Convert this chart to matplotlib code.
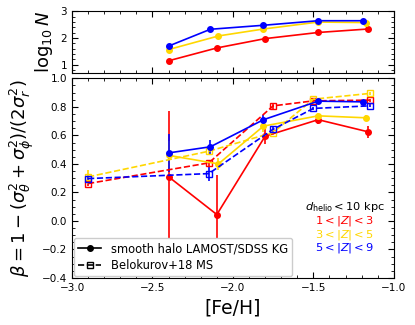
import numpy as np
import matplotlib
matplotlib.use('Agg')
import matplotlib.pyplot as plt
from matplotlib.lines import Line2D
from matplotlib.ticker import MultipleLocator

# star counts (top panel), per |Z| bin
feh_red = [-2.40, -2.10, -1.80, -1.47, -1.16]
feh_yel = [-2.40, -2.09, -1.81, -1.47, -1.17]
feh_blu = [-2.40, -2.14, -1.81, -1.47, -1.19]
logn_red = [1.15, 1.63, 1.98, 2.21, 2.34]
logn_yel = [1.57, 2.08, 2.34, 2.60, 2.58]
logn_blu = [1.70, 2.33, 2.48, 2.65, 2.65]

# anisotropy, smooth halo LAMOST/SDSS KG
beta_red = [0.31, 0.045, 0.594, 0.71, 0.625]
err_red = [0.46, 0.28, 0.055, 0.03, 0.04]
beta_yel = [0.46, 0.40, 0.665, 0.737, 0.723]
err_yel = [0.10, 0.04, 0.04, 0.02, 0.02]
beta_blu = [0.477, 0.52, 0.71, 0.84, 0.835]
err_blu = [0.135, 0.05, 0.03, 0.015, 0.015]

# Belokurov+18 MS
feh_b18 = [-2.90, -2.15, -1.75, -1.50, -1.15]
b18_red = [0.262, 0.407, 0.807, 0.842, 0.847]
b18_yel = [0.309, 0.489, 0.620, 0.854, 0.894]
b18_blu = [0.297, 0.332, 0.643, 0.789, 0.807]
b18_err_red = [0.02, 0.02, 0.02, 0.01, 0.01]
b18_err_yel = [0.05, 0.02, 0.02, 0.01, 0.01]
b18_err_blu = [0.02, 0.055, 0.02, 0.01, 0.01]

colors = ['red', '#FFD700', 'blue']
zlabels = [r'$1<|Z|<3$', r'$3<|Z|<5$', r'$5<|Z|<9$']

fig = plt.figure(figsize=(4.15, 3.25), dpi=100)
ax1 = fig.add_axes([0.1735, 0.776, 0.7755, 0.189])
ax2 = fig.add_axes([0.1735, 0.1446, 0.7755, 0.6144])

for feh, logn, c in zip([feh_red, feh_yel, feh_blu], [logn_red, logn_yel, logn_blu], colors):
    ax1.plot(feh, logn, '-o', color=c, ms=4, lw=1.2)

ax1.set_xlim(-3, -1)
ax1.set_ylim(0.7, 3.0)
ax1.set_ylabel(r'$\log_{10}N$', fontsize=13)
ax1.set_xticklabels([])

kg = [(feh_red, beta_red, err_red), (feh_yel, beta_yel, err_yel), (feh_blu, beta_blu, err_blu)]
b18 = [(b18_red, b18_err_red), (b18_yel, b18_err_yel), (b18_blu, b18_err_blu)]
for (x, y, e), (yb, eb), c in zip(kg, b18, colors):
    ax2.errorbar(feh_b18, yb, yerr=eb, fmt='s--', color=c, mfc='none', ms=5, lw=1.2, capsize=0)
    ax2.errorbar(x, y, yerr=e, fmt='o-', color=c, ms=4, lw=1.2, capsize=0)

ax2.set_xlim(-3, -1)
ax2.set_ylim(-0.4, 1.0)
ax2.set_xlabel('[Fe/H]', fontsize=13.5)
ax2.set_ylabel(r'$\beta=1-(\sigma_\theta^2+\sigma_\phi^2)/(2\sigma_r^2)$', fontsize=13)

for ax in (ax1, ax2):
    ax.xaxis.set_major_locator(MultipleLocator(0.5))
    ax.xaxis.set_minor_locator(MultipleLocator(0.1))
    ax.tick_params(which='both', direction='in', top=True, right=True, labelsize=7.5)
    ax.tick_params(which='major', length=4)
    ax.tick_params(which='minor', length=2)
ax1.yaxis.set_major_locator(MultipleLocator(1))
ax1.yaxis.set_minor_locator(MultipleLocator(0.2))
ax2.yaxis.set_major_locator(MultipleLocator(0.2))
ax2.yaxis.set_minor_locator(MultipleLocator(0.05))

handles = [Line2D([], [], color='k', ls='-', marker='o', ms=4, lw=1.2),
           Line2D([], [], color='k', ls='--', marker='s', mfc='none', ms=5, lw=1.2)]
ax2.legend(handles, ['smooth halo LAMOST/SDSS KG', 'Belokurov+18 MS'],
           loc='lower left', fontsize=8.3, borderaxespad=0.15, labelspacing=0.3,
           framealpha=1)

ax2.text(0.848, 0.356, r'$d_{\rm helio}<10$ kpc', transform=ax2.transAxes,
         ha='center', va='center', fontsize=8.2)
for i, (lab, c) in enumerate(zip(zlabels, colors)):
    ax2.text(0.848, 0.286 - 0.069 * i, lab, transform=ax2.transAxes,
             ha='center', va='center', fontsize=8.2, color=c)

fig.savefig('out.png', dpi=100)
